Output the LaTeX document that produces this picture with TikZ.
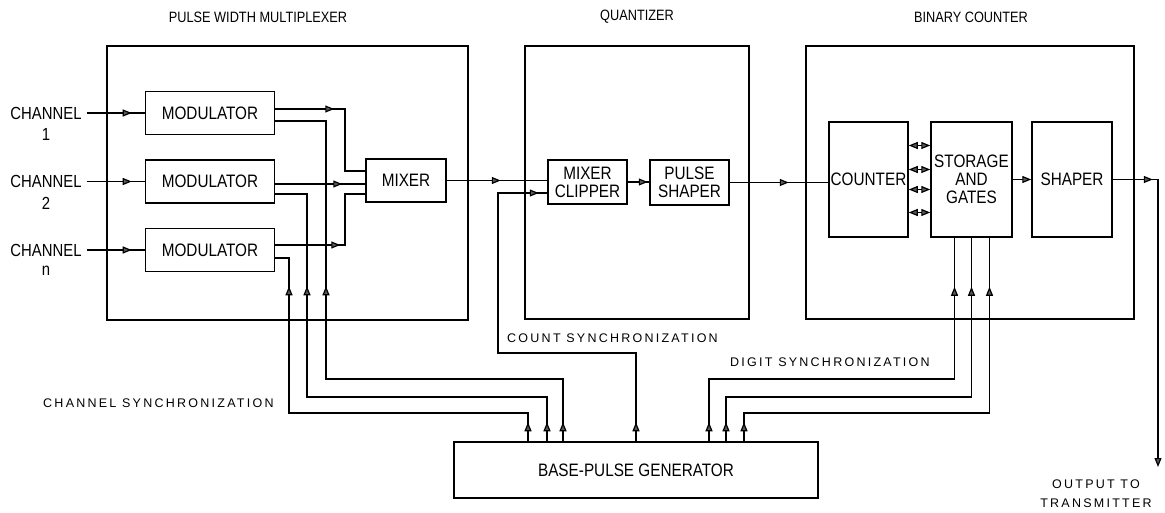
\documentclass[tikz,border=0pt]{standalone}
\usepackage{fontspec}
\setmainfont{Liberation Sans}
\newfontfamily\boxfont[FakeStretch=0.85]{Liberation Sans}
\newfontfamily\notefont[LetterSpace=18]{Liberation Sans}
\usetikzlibrary{arrows.meta,decorations.markings,positioning}

\tikzset{
  box/.style={draw, line width=1.5pt, inner sep=0pt, align=center, font=\boxfont\fontsize{18}{18}\selectfont},
  outerbox/.style={draw, line width=1.7pt, inner sep=0pt},
  lbl/.style={inner sep=0pt, font=\boxfont\fontsize{17.5}{18}\selectfont},
  title/.style={inner sep=0pt, font=\boxfont\fontsize{15}{16}\selectfont},
  note/.style={inner sep=0pt, align=center, font=\notefont\fontsize{12.5}{19}\selectfont},
  wire/.style={line width=1.2pt},
  arrowat/.style={postaction={decorate, decoration={markings, mark=at position #1 with {\arrow{>}}}}},
  >={Triangle[length=9pt,width=7pt,fill=black!65]}
}

\begin{document}
\begin{tikzpicture}[x=1pt, y=-1pt]
\useasboundingbox (0,0) rectangle (1165,513);

\node[outerbox, minimum width=361pt, minimum height=274pt] (mux) at (287.5,183) {};
\node[outerbox, minimum width=224pt, minimum height=273pt] (quant) at (637,182.5) {};
\node[outerbox, minimum width=328pt, minimum height=273pt] (bcount) at (970,182.5) {};
\node[title] at (258,17) {PULSE WIDTH MULTIPLEXER};
\node[title] at (637,17) {QUANTIZER};
\node[title] at (971,17) {BINARY COUNTER};

\node[box, minimum width=129pt, minimum height=43pt] (modA) at (210,113) {MODULATOR};
\node[box, minimum width=129pt, minimum height=43pt] (modB) at (210,181.5) {MODULATOR};
\node[box, minimum width=129pt, minimum height=43pt] (modC) at (210,250) {MODULATOR};
\node[box, minimum width=80pt, minimum height=43pt] (mixer) at (406,180.5) {MIXER};
\node[box, minimum width=79pt, minimum height=44pt] (clip) at (587.5,182) {MIXER\\CLIPPER};
\node[box, minimum width=79pt, minimum height=45pt] (pshape) at (689.5,182.5) {PULSE\\SHAPER};
\node[box, minimum width=79pt, minimum height=115pt] (counter) at (868.5,179.5) {COUNTER};
\node[box, minimum width=81pt, minimum height=115pt] (store) at (971.5,179.5) {STORAGE\\AND\\GATES};
\node[box, minimum width=80pt, minimum height=115pt] (shaper) at (1072,179.5) {SHAPER};
\node[box, minimum width=364pt, minimum height=56pt] (bpg) at (636,470) {BASE-PULSE GENERATOR};

\node[lbl] (chA) at (46,113) {CHANNEL};
\node[lbl] at (46,134) {1};
\node[lbl] (chB) at (46,181.5) {CHANNEL};
\node[lbl] at (46,203) {2};
\node[lbl] (chC) at (46,250) {CHANNEL};
\node[lbl] at (46,271) {n};

\draw[wire, arrowat=45pt] ([xshift=5pt]chA.east) -- (chA.east -| modA.west);
\draw[wire, arrowat=45pt] ([xshift=5pt]chB.east) -- (chB.east -| modB.west);
\draw[wire, arrowat=45pt] ([xshift=5pt]chC.east) -- (chC.east -| modC.west);

\coordinate (jA) at (345,171);
\coordinate (jC) at (345,194);
\draw[wire, arrowat=59pt] ([yshift=4pt]modA.east) -| (jA) -- (jA -| mixer.west);
\draw[wire, arrowat=67pt] ([yshift=-2.5pt]modB.east) -- ([yshift=-2.5pt]modB.east -| mixer.west);
\draw[wire, arrowat=65pt] ([yshift=5pt]modC.east) -| (jC) -- (jC -| mixer.west);

\draw[wire, arrowat=54pt] (mixer.east) -- (mixer.east -| clip.west);
\draw[wire, arrowat=20pt] (clip.east) -- (clip.east -| pshape.west);
\draw[wire, arrowat=59pt] (pshape.east) -- (pshape.east -| counter.west);
\foreach \dy in {34,10,-10,-33}
  \draw[wire, <->] ([yshift=\dy pt]counter.east) -- ([yshift=\dy pt]store.west);
\draw[wire, ->] (store.east) -- (shaper.west);
\coordinate (out) at (1158,467);
\draw[wire, arrowat=40pt, ->] (shaper.east) -| (out);

\coordinate (cs) at (498,353);
\draw[wire, arrowat=19pt, arrowat=427pt] (bpg.north) |- (cs) |- ([yshift=-11pt]clip.west);

\coordinate (ksA) at (326,379);
\coordinate (ksB) at (307,397);
\coordinate (ksC) at (289,413);
\draw[wire, arrowat=19pt, arrowat=392pt] ([xshift=-73pt]bpg.north) |- (ksA) |- ([yshift=-8pt]modA.east);
\draw[wire, arrowat=19pt, arrowat=395pt] ([xshift=-89pt]bpg.north) |- (ksB) |- ([yshift=-12.5pt]modB.east);
\draw[wire, arrowat=19pt, arrowat=394pt] ([xshift=-108pt]bpg.north) |- (ksC) |- ([yshift=-8pt]modC.east);

\coordinate (dsA) at (954.5,379);
\coordinate (dsB) at (971.5,397);
\coordinate (dsC) at (989.5,413);
\draw[wire, arrowat=19pt, arrowat=400pt] ([xshift=73pt]bpg.north) |- (dsA) -- (dsA |- store.south);
\draw[wire, arrowat=19pt, arrowat=400pt] ([xshift=90pt]bpg.north) |- (dsB) -- (dsB |- store.south);
\draw[wire, arrowat=19pt, arrowat=400pt] ([xshift=108pt]bpg.north) |- (dsC) -- (dsC |- store.south);

\node[note, anchor=west] at (43,403) {CHANNEL SYNCHRONIZATION};
\node[note, anchor=west] at (507,338) {COUNT SYNCHRONIZATION};
\node[note, anchor=west] at (730,362) {DIGIT SYNCHRONIZATION};
\node[note] at (1096,494) {OUTPUT TO\\TRANSMITTER};
\end{tikzpicture}
\end{document}
